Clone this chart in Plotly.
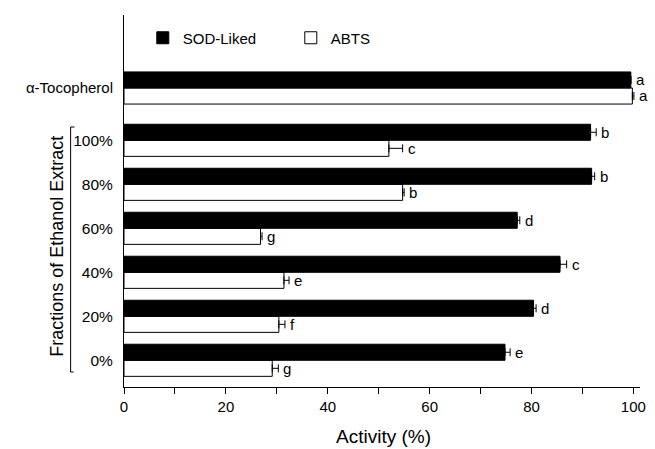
import plotly.graph_objects as go

# ---------------- data ----------------
categories = ["α-Tocopherol", "100%", "80%", "60%", "40%", "20%", "0%"]
sod = [99.5, 91.6, 91.8, 77.2, 85.6, 80.4, 74.8]
sod_err = [0.0, 1.1, 0.6, 0.5, 1.3, 0.5, 1.0]
abts = [99.8, 52.0, 54.7, 26.8, 31.4, 30.4, 29.1]
abts_err = [0.3, 2.7, 0.3, 0.3, 1.0, 1.2, 1.2]
sod_letters = ["a", "b", "b", "d", "c", "d", "e"]
abts_letters = ["a", "c", "b", "g", "e", "f", "g"]
x_tickvals = [0, 10, 20, 30, 40, 50, 60, 70, 80, 90, 100]
x_ticktext = ["0", "", "20", "", "40", "", "60", "", "80", "", "100"]

# ---------------- layout constants ----------------
W, H = 655, 449
ML, MR, MT, MB = 124, 9, 15, 62
PH = H - MT - MB
FONT = "Liberation Sans, Arial, sans-serif"


def py(y_px):
    return (H - MB - y_px) / PH


def px(x_px):
    return (x_px - ML) / (W - ML - MR)


split = py(118)

ref_cat = categories[:1]
frac_cat = categories[1:]

fig = go.Figure()


def err(arr):
    return dict(type="data", array=arr, arrayminus=[0] * len(arr), symmetric=False,
                color="black", thickness=1, width=4)


# fractions subplot (ABTS first -> lower bar in group)
fig.add_trace(go.Bar(name="ABTS", x=abts[1:], y=frac_cat, orientation="h",
                     marker=dict(color="white", line=dict(color="black", width=1)),
                     error_x=err(abts_err[1:]), legendrank=2, legendgroup="abts",
                     xaxis="x", yaxis="y"))
fig.add_trace(go.Bar(name="SOD-Liked", x=sod[1:], y=frac_cat, orientation="h",
                     marker=dict(color="black", line=dict(color="black", width=1)),
                     error_x=err(sod_err[1:]), legendrank=1, legendgroup="sod",
                     xaxis="x", yaxis="y"))
# reference subplot
fig.add_trace(go.Bar(name="ABTS", x=abts[:1], y=ref_cat, orientation="h",
                     marker=dict(color="white", line=dict(color="black", width=1)),
                     error_x=err(abts_err[:1]), showlegend=False, legendgroup="abts",
                     xaxis="x2", yaxis="y2"))
fig.add_trace(go.Bar(name="SOD-Liked", x=sod[:1], y=ref_cat, orientation="h",
                     marker=dict(color="black", line=dict(color="black", width=1)),
                     error_x=err(sod_err[:1]), showlegend=False, legendgroup="sod",
                     xaxis="x2", yaxis="y2"))

annotations = []
for i, cat in enumerate(categories):
    xr, yr = ("x2", "y2") if i == 0 else ("x", "y")
    annotations.append(dict(x=sod[i] + sod_err[i], y=cat, xref=xr, yref=yr, text=sod_letters[i],
                            showarrow=False, xanchor="left", xshift=3, yshift=8,
                            font=dict(size=15, color="black", family=FONT)))
    annotations.append(dict(x=abts[i] + abts_err[i], y=cat, xref=xr, yref=yr, text=abts_letters[i],
                            showarrow=False, xanchor="left", xshift=3, yshift=-8,
                            font=dict(size=15, color="black", family=FONT)))

annotations.append(dict(text="Fractions of Ethanol Extract", textangle=-90, x=px(56), y=py(246),
                        xref="paper", yref="paper", showarrow=False, xanchor="center",
                        yanchor="middle", font=dict(size=18, color="black", family=FONT)))

annotations.append(dict(text="Activity (%)", x=px(387), y=py(437), xref="paper", yref="paper",
                        showarrow=False, xanchor="center", yanchor="middle",
                        font=dict(size=19, color="black", family=FONT)))

shapes = [dict(type="path", xref="paper", yref="paper",
               path=f"M {px(74)},{py(127)} L {px(70)},{py(127)} L {px(70)},{py(372)} L {px(73)},{py(372)}",
               line=dict(color="black", width=1))]

axis_common = dict(showgrid=False, zeroline=False, showline=True, linecolor="black", linewidth=1)

fig.update_layout(
    width=W, height=H,
    margin=dict(l=ML, r=MR, t=MT, b=MB, pad=0),
    paper_bgcolor="white", plot_bgcolor="white",
    font=dict(family=FONT, color="black", size=15),
    barmode="group", bargap=0.27, bargroupgap=0,
    showlegend=True,
    legend=dict(orientation="h", x=px(143), y=py(38), xanchor="left", yanchor="middle",
                font=dict(size=15, family=FONT), entrywidth=103, bgcolor="rgba(0,0,0,0)",
                traceorder="normal"),
    xaxis=dict(domain=[0, 1], anchor="y", range=[0, 101.3], tickmode="array",
               tickvals=x_tickvals, ticktext=x_ticktext, ticks="outside", ticklen=6,
               tickcolor="black", tickfont=dict(size=15), **axis_common),
    xaxis2=dict(domain=[0, 1], anchor="y2", matches="x", visible=False),
    yaxis=dict(domain=[0, split], anchor="x", type="category", categoryorder="array",
               categoryarray=frac_cat[::-1], range=[-0.607, 5.507], ticks="",
               tickfont=dict(size=15.5), ticklabelstandoff=7, **axis_common),
    yaxis2=dict(domain=[split, 1], anchor="x2", type="category", range=[-0.682, 1.659],
                ticks="", tickfont=dict(size=15), ticklabelstandoff=7, **axis_common),
    annotations=annotations,
    shapes=shapes,
)

fig.write_html("out.html")
